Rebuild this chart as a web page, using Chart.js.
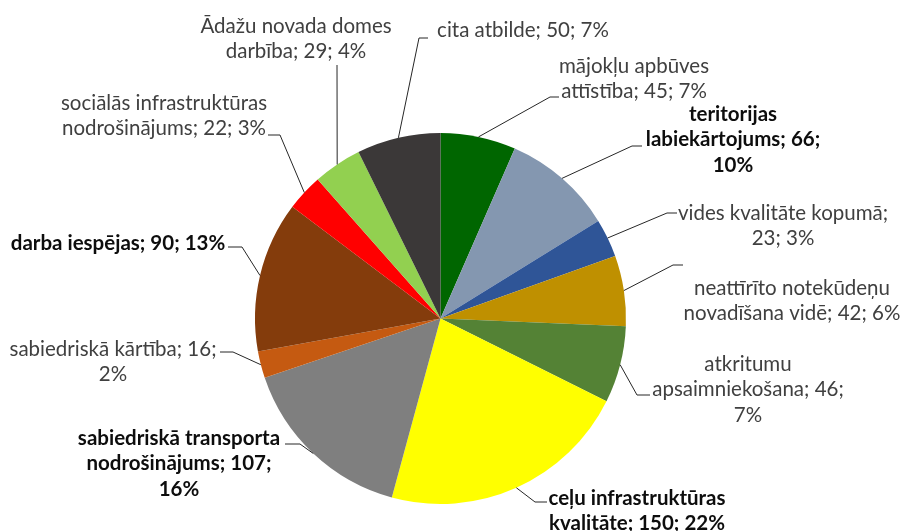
<!DOCTYPE html>
<html>
<head>
<meta charset="utf-8">
<script src="https://cdn.jsdelivr.net/npm/chart.js@4.4.0/dist/chart.umd.min.js"></script>
<style>
html, body { margin: 0; padding: 0; background: #fff; }
#wrap { width: 904px; height: 531px; position: relative; }
</style>
</head>
<body>
<div id="wrap"><canvas id="piechart"></canvas></div>
<script>
// data, clockwise from 12 o'clock
var categories = [
	"mājokļu apbūves attīstība",
	"teritorijas labiekārtojums",
	"vides kvalitāte kopumā",
	"neattīrīto notekūdeņu novadīšana vidē",
	"atkritumu apsaimniekošana",
	"ceļu infrastruktūras kvalitāte",
	"sabiedriskā transporta nodrošinājums",
	"sabiedriskā kārtība",
	"darba iespējas",
	"sociālās infrastruktūras nodrošinājums",
	"Ādažu novada domes darbība",
	"cita atbilde"
];
var answers = [45, 66, 23, 42, 46, 150, 107, 16, 90, 22, 29, 50];
var sliceColors = [
	"#006600", "#8497b0", "#2f5597", "#bf9000", "#548235", "#ffff00",
	"#7f7f7f", "#c55a11", "#843c0c", "#ff0000", "#92d050", "#3b3838"
];
var boldLabel = [false, true, false, false, false, true, true, false, true, false, false, false];

// how many words go on each line of a label
var wrapWords = [[2,3],[1,2,1],[3,2],[2,4],[1,2,1],[2,3],[2,2,1],[3,1],[4],[2,3],[3,3],[4]];

// label placement: text centre x, first line y, elbow of leader, end of the short tick
var labelPos = [
	{cx: 634, y: 66,  elbow: [550, 97],  tick: [559, 97]},
	{cx: 733, y: 114, elbow: [632, 146], tick: [642, 146]},
	{cx: 783, y: 213, elbow: [667, 213], tick: [677, 213]},
	{cx: 792, y: 288, elbow: [673, 265], tick: [683, 265]},
	{cx: 748, y: 364, elbow: [637, 395], tick: [650, 395]},
	{cx: 637, y: 498, elbow: [535, 502], tick: [547, 502]},
	{cx: 179, y: 438, elbow: [300, 444], tick: [285, 444]},
	{cx: 113, y: 349, elbow: [233, 352], tick: [220, 352]},
	{cx: 118, y: 243, elbow: [242, 247], tick: [228, 247]},
	{cx: 164, y: 103, elbow: [280, 135], tick: [268, 135]},
	{cx: 296, y: 26,  elbow: [337, 65],  tick: [337, 65]},
	{cx: 523, y: 30,  elbow: [419, 38],  tick: [428, 38]}
];

var total = answers.reduce(function(a, b) { return a + b; }, 0);

function labelLines(i) {
	var pct = Math.round(answers[i] / total * 100);
	var words = (categories[i] + "; " + answers[i] + "; " + pct + "%").split(" ");
	var lines = [], k = 0;
	wrapWords[i].forEach(function(n) {
		lines.push(words.slice(k, k + n).join(" "));
		k += n;
	});
	return lines;
}

var calloutPlugin = {
	id: 'callouts',
	afterDatasetsDraw: function(chart) {
		var ctx = chart.ctx;
		var arcs = chart.getDatasetMeta(0).data;
		ctx.save();
		arcs.forEach(function(arc, i) {
			var p = arc.getProps(['x', 'y', 'startAngle', 'endAngle', 'outerRadius'], true);
			var mid = (p.startAngle + p.endAngle) / 2;
			var sx = p.x + Math.cos(mid) * p.outerRadius;
			var sy = p.y + Math.sin(mid) * p.outerRadius;
			var lp = labelPos[i];
			ctx.strokeStyle = "#262626";
			ctx.lineWidth = 1;
			ctx.beginPath();
			ctx.moveTo(sx, sy);
			ctx.lineTo(lp.elbow[0], lp.elbow[1]);
			ctx.lineTo(lp.tick[0], lp.tick[1]);
			ctx.stroke();

			ctx.font = (boldLabel[i] ? "bold " : "") + "20.5px Lato";
			ctx.fillStyle = boldLabel[i] ? "#0d0d0d" : "#404040";
			ctx.textAlign = "center";
			ctx.textBaseline = "middle";
			labelLines(i).forEach(function(line, j) {
				ctx.fillText(line, lp.cx, lp.y + j * 25.5);
			});
		});
		ctx.restore();
	}
};

var piechart = {
	type: 'pie',
	data: {
		labels: categories,
		datasets: [{
			data: answers,
			backgroundColor: sliceColors,
			borderWidth: 0
		}]
	},
	options: {
		responsive: true,
		maintainAspectRatio: false,
		animation: false,
		layout: {
			padding: { top: 133, bottom: 27, left: 255, right: 278 }
		},
		plugins: {
			legend: { display: false },
			tooltip: { enabled: false },
			title: { display: false }
		}
	},
	plugins: [calloutPlugin]
};

window.onload = function() {
	var ctx = document.getElementById("piechart").getContext("2d");
	window.myPie = new Chart(ctx, piechart);
};
</script>
</body>
</html>
